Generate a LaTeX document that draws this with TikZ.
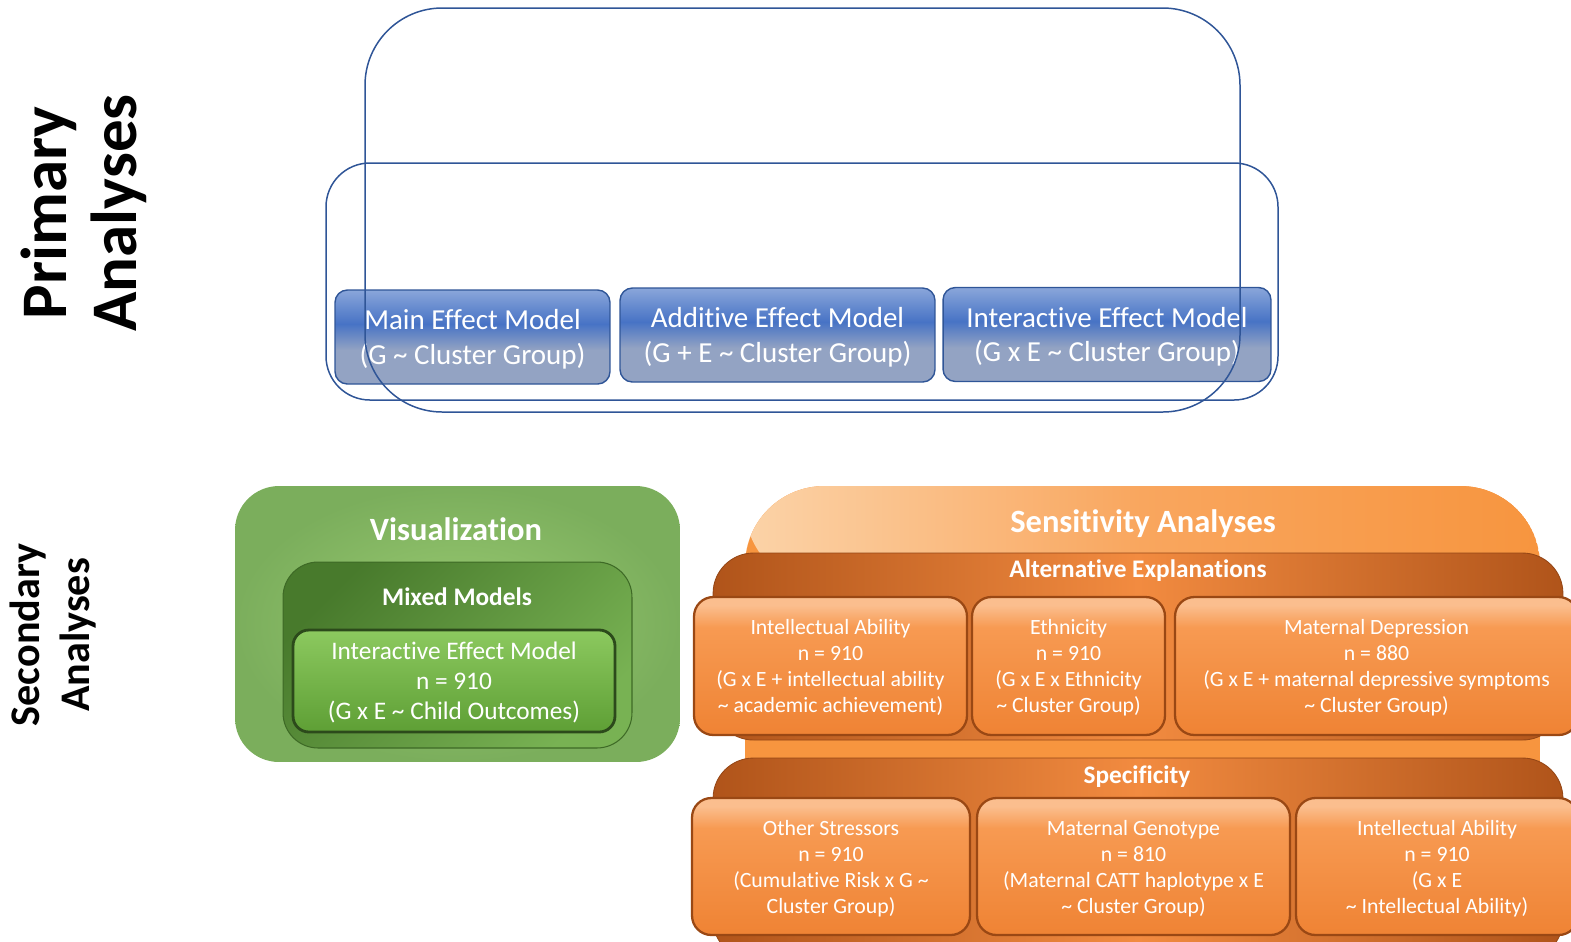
\documentclass[tikz,border=0pt]{standalone}
\usepackage{fontspec}
\setmainfont{Carlito}[Ligatures=NoCommon]

\definecolor{frameblue}{HTML}{2F5597}
\definecolor{modeltop}{HTML}{8AA6DA}
\definecolor{modelmid}{HTML}{4773C5}
\definecolor{modelgrey}{HTML}{93A3C3}
\definecolor{visin}{HTML}{9ACB72}
\definecolor{visout}{HTML}{7BAE5C}
\definecolor{mixdark}{HTML}{487A2C}
\definecolor{mixlight}{HTML}{78B253}
\definecolor{mixedge}{HTML}{3E6A26}
\definecolor{gxetop}{HTML}{8CC95F}
\definecolor{gxebot}{HTML}{5E9F35}
\definecolor{gxeedge}{HTML}{2C4A1B}
\definecolor{senslight}{HTML}{FBD3A8}
\definecolor{sensmid}{HTML}{F9A65E}
\definecolor{sensorange}{HTML}{F7953F}
\definecolor{banddark}{HTML}{B0541A}
\definecolor{bandlight}{HTML}{F28B40}
\definecolor{celltop}{HTML}{FBBE8E}
\definecolor{cellmid}{HTML}{F79A52}
\definecolor{cellbot}{HTML}{EF8334}
\definecolor{celledge}{HTML}{9A4814}

\pgfdeclareverticalshading{modelshade}{100bp}{color(0bp)=(modelgrey); color(43bp)=(modelgrey); color(57bp)=(modelmid); color(75bp)=(modeltop); color(100bp)=(modeltop)}
\pgfdeclareverticalshading{cellshade}{100bp}{color(0bp)=(cellbot); color(25bp)=(cellbot); color(64bp)=(cellmid); color(72bp)=(celltop); color(100bp)=(celltop)}
\pgfdeclarehorizontalshading{sensshade}{100bp}{color(0bp)=(senslight); color(25bp)=(senslight); color(50bp)=(sensmid); color(75bp)=(sensorange); color(100bp)=(sensorange)}

\begin{document}
\begin{tikzpicture}[x=0.02cm, y=-0.02cm,
    model/.style={draw=frameblue, line width=0.8pt, rounded corners=7pt, shading=modelshade,
        text=white, align=center, inner sep=0pt, text depth=0pt, minimum height=1.88cm, font=\fontsize{16.5}{19.5}\selectfont},
    cell/.style={draw=celledge, line width=1.3pt, rounded corners=11pt, shading=cellshade,
        text=white, align=center, inner sep=0pt, text depth=0pt, font=\fontsize{12.4}{14.8}\selectfont},
    band/.style={draw=banddark!85!black, line width=0.5pt, rounded corners=23pt, left color=banddark, right color=banddark, middle color=bandlight, minimum width=17cm},
    heading/.style={text=white, font=\bfseries\fontsize{18.5}{21}\selectfont},
    subheading/.style={text=white, font=\bfseries\fontsize{14.4}{17}\selectfont},
    frame/.style={frameblue, line width=0.85pt}]

    \useasboundingbox (0,0) rectangle (1571,941);
    \clip (0,0) rectangle (1571,941);

    % row labels
    \node[rotate=90, align=center, font=\bfseries\fontsize{37}{40}\selectfont] (primary) at (84,213) {Primary\\Analyses};
    \node[rotate=90, align=center, font=\bfseries\fontsize{24}{28}\selectfont] (secondary) at (53,635) {Secondary\\Analyses};

    % primary models
    \node[model, minimum width=5.5cm] (main) at (472.5,337) {Main Effect Model\\(G \textasciitilde{} Cluster Group)};
    \node[model, minimum width=6.3cm] (additive) at (777.5,335) {Additive Effect Model\\(G + E \textasciitilde{} Cluster Group)};
    \node[model, minimum width=6.56cm] (interactive) at (1107,334.5) {Interactive Effect Model\\(G x E \textasciitilde{} Cluster Group)};

    \draw[frame, rounded corners=44pt] (365,8) rectangle (1240,412);
    \draw[frame, rounded corners=25pt] (326,163) rectangle (1278,400);

    % visualization
    \node[rounded corners=25pt, inner color=visin, outer color=visout, minimum width=8.9cm, minimum height=5.52cm] (vis) at (457.5,624) {};
    \node[heading] (vistitle) at (456,529) {Visualization};
    \node[draw=mixedge, line width=0.6pt, rounded corners=20pt, left color=mixdark, right color=mixlight, shading angle=45,
        minimum width=6.98cm, minimum height=3.72cm] (mixed) at (457.5,655) {};
    \node[subheading] (mixedtitle) at (457,597) {Mixed Models};
    \node[draw=gxeedge, line width=1.6pt, rounded corners=9pt, top color=gxetop, bottom color=gxebot,
        minimum width=6.44cm, minimum height=2.04cm, inner sep=0pt, text depth=0pt, text=white, align=center,
        font=\fontsize{14.4}{17}\selectfont] (gxe) at (454,681) {Interactive Effect Model\\n = 910\\(G x E \textasciitilde{} Child Outcomes)};

    % sensitivity analyses
    \node[rounded corners=45pt, minimum width=15.9cm, minimum height=10.28cm,
        path picture={\fill[sensorange] (path picture bounding box.south west) rectangle (path picture bounding box.north east);
            \shade[shading=sensshade]
            (path picture bounding box.north west) rectangle ([yshift=-2cm]path picture bounding box.north east);}] (sens) at (1142.5,743) {};
    \node[heading] (senstitle) at (1143,524) {Sensitivity Analyses};

    \node[band, minimum height=3.74cm] (alt) at (1138,646.5) {};
    \node[subheading] (alttitle) at (1138,571) {Alternative Explanations};
    \node[cell, minimum width=5.46cm, minimum height=2.76cm] (intel) at (830.5,666) {Intellectual Ability\\n = 910\\(G x E + intellectual ability\\\textasciitilde{} academic achievement)};
    \node[cell, minimum width=3.86cm, minimum height=2.76cm] (ethn) at (1068.5,666) {Ethnicity\\n = 910\\(G x E x Ethnicity\\\textasciitilde{} Cluster Group)};
    \node[cell, minimum width=8.06cm, minimum height=2.76cm] (matdep) at (1376.5,666) {Maternal Depression\\n = 880\\(G x E + maternal depressive symptoms\\\textasciitilde{} Cluster Group)};

    \node[band, minimum height=4.04cm] (spec) at (1138,859) {};
    \node[subheading] (spectitle) at (1137,777) {Specificity};
    \node[cell, minimum width=5.56cm, minimum height=2.74cm] (stress) at (831,866.5) {Other Stressors\\n = 910\\(Cumulative Risk x G \textasciitilde\\Cluster Group)};
    \node[cell, minimum width=6.26cm, minimum height=2.74cm] (matgen) at (1133.5,866.5) {Maternal Genotype\\n = 810\\(Maternal CATT haplotype x E\\\textasciitilde{} Cluster Group)};
    \node[cell, minimum width=5.64cm, minimum height=2.74cm] (ability) at (1437,866.5) {Intellectual Ability\\n = 910\\(G x E\\\textasciitilde{} Intellectual Ability)};
\end{tikzpicture}
\end{document}
